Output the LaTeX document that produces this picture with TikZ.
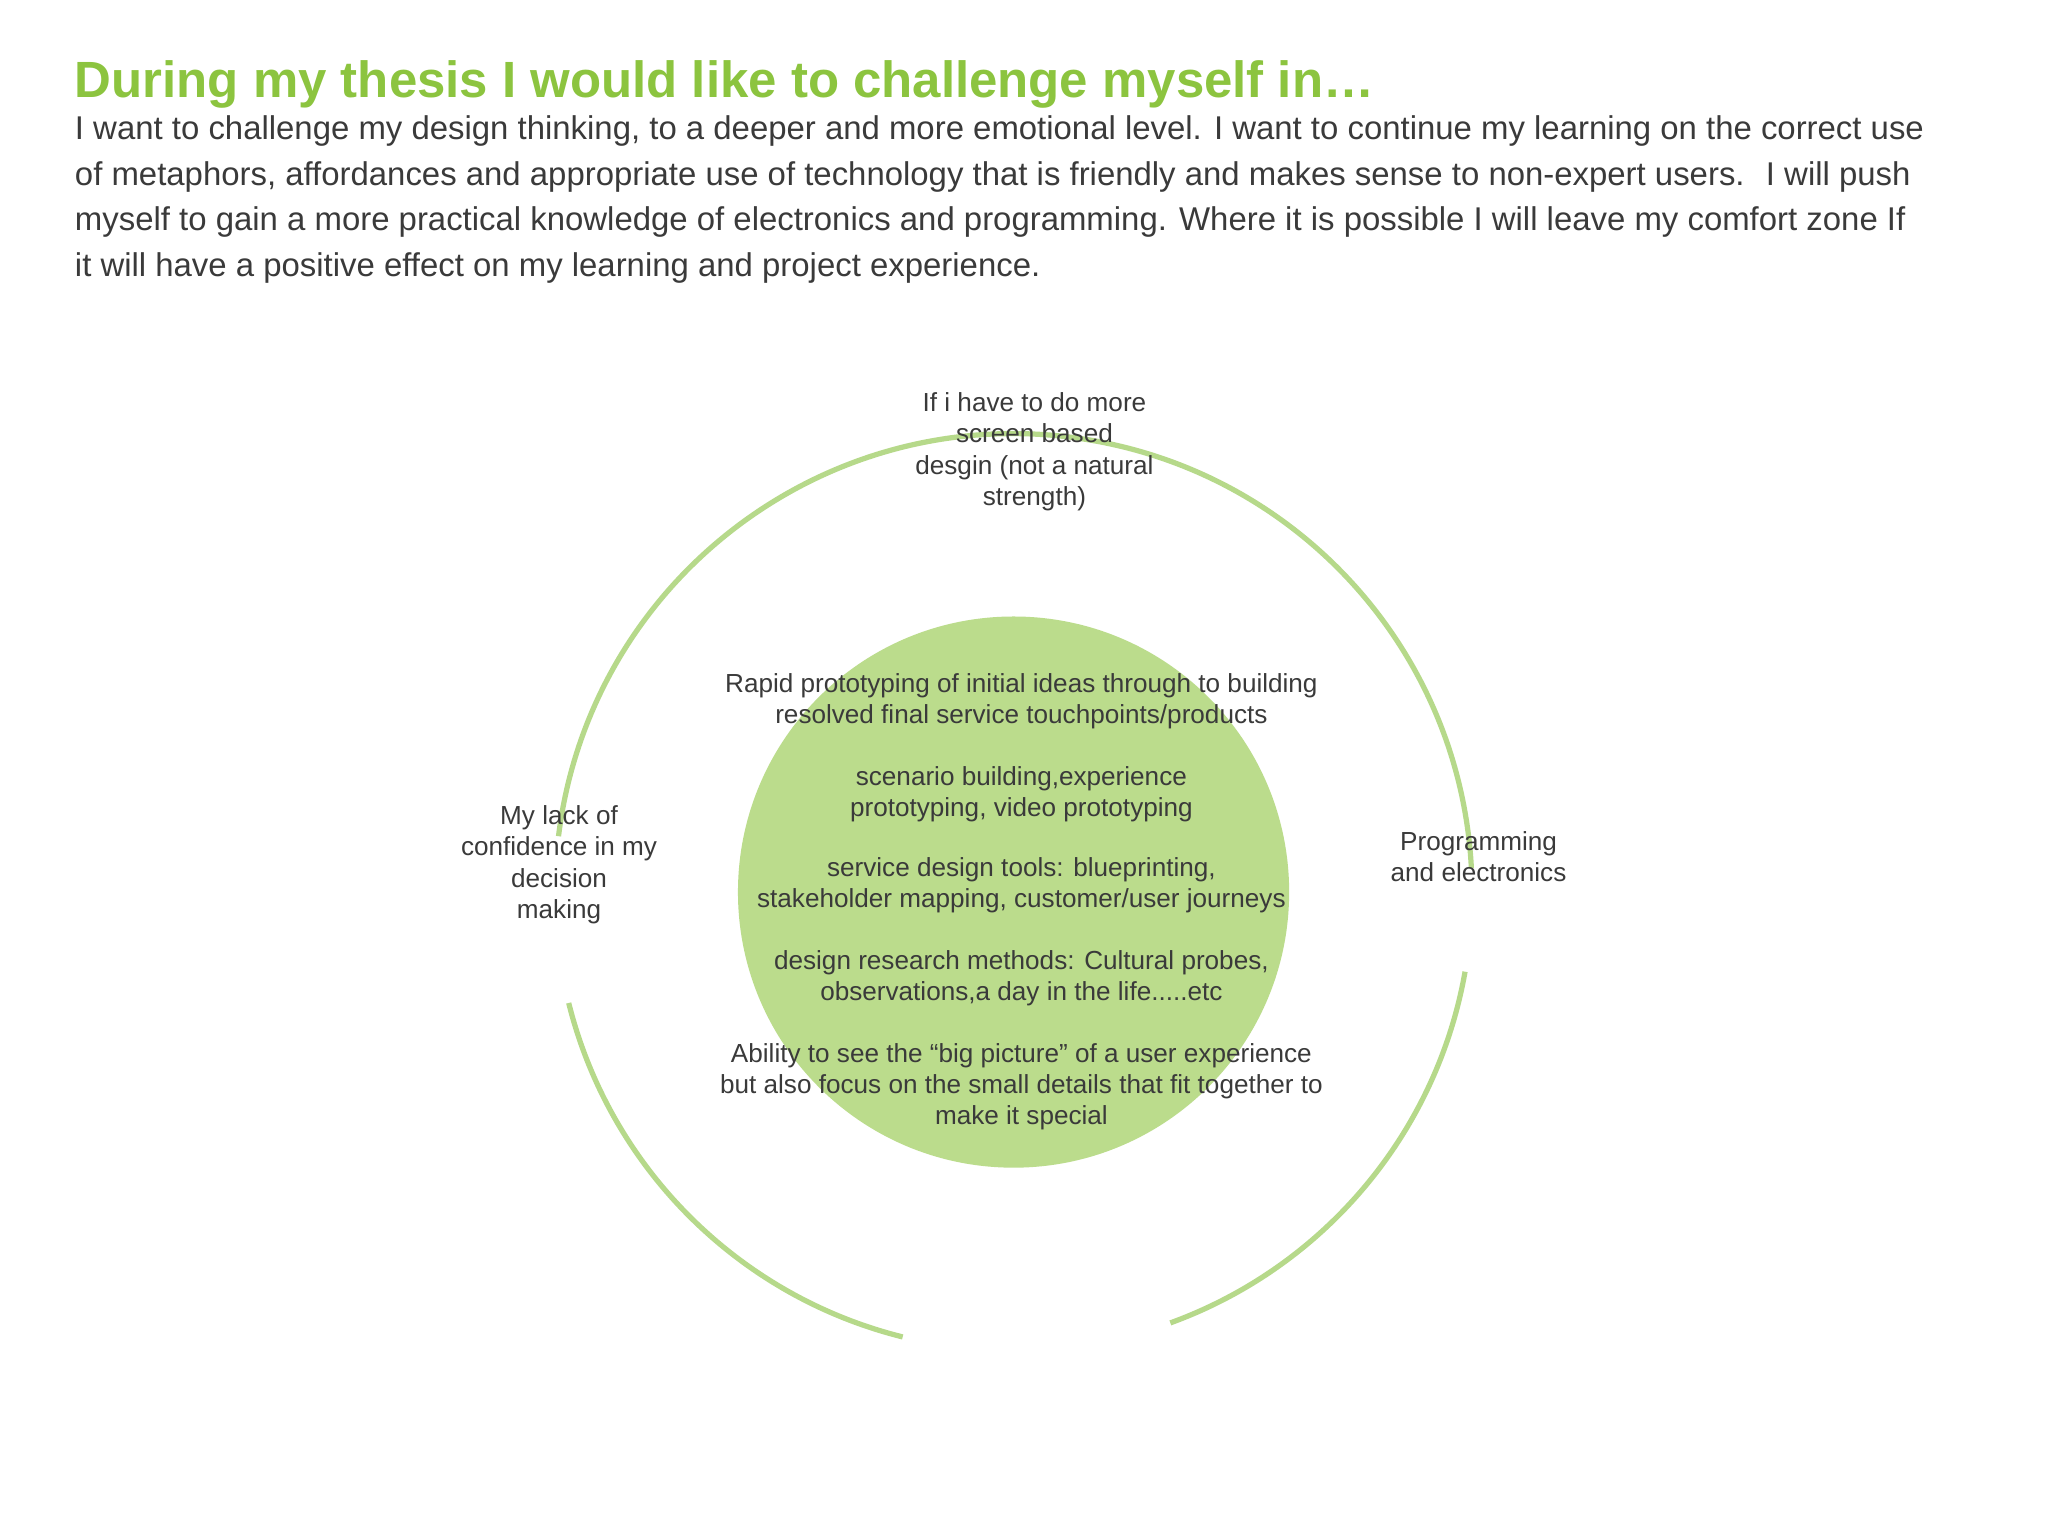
\documentclass[tikz,border=0pt]{standalone}
\usepackage{fontspec}
\setmainfont{Liberation Sans}
\definecolor{tgreen}{HTML}{8CC43F}
\definecolor{lgreen}{HTML}{B6D98A}
\definecolor{fgreen}{HTML}{BBDC8C}
\definecolor{tgray}{HTML}{3A3A3A}
\tikzset{
 lbl/.style={align=center,text=tgray,font=\fontsize{10pt}{12pt}\selectfont,inner sep=0pt},
 ring/.style={draw=lgreen,line width=2pt},
}
\begin{document}
\begin{tikzpicture}[x=0.5pt,y=-0.5pt]
\useasboundingbox[fill=white] (0,0) rectangle (1568,1176);
\node[anchor=base west,inner sep=0pt,text=tgreen,font=\fontsize{19.5pt}{22pt}\selectfont\bfseries] (title) at (57,75) {During my thesis I would like to challenge myself in…};
\node[anchor=north west,inner sep=0pt,text=tgray,align=left,font=\fontsize{12.6pt}{17.5pt}\selectfont] (body) at (57,88) {I want to challenge my design thinking, to a deeper and more emotional level. I want to continue my learning on the correct use\\of metaphors, affordances and appropriate use of technology that is friendly and makes sense to non-expert users.~ I will push\\myself to gain a more practical knowledge of electronics and programming. Where it is possible I will leave my comfort zone If\\it will have a positive effect on my learning and project experience.};
\coordinate (c) at (776,683);
\fill[fgreen] (c) circle[radius=211];
\draw[ring] (c) ++(10:351) arc[start angle=10,end angle=70,radius=351];
\draw[ring] (c) ++(104:351) arc[start angle=104,end angle=166,radius=351];
\draw[ring] (c) ++(187:351) arc[start angle=187,end angle=357,radius=351];
\node[lbl] (p1) at (782,537) {Rapid prototyping of initial ideas through to building\\resolved final service touchpoints/products};
\node[lbl] (p2) at (782,608) {scenario building,experience\\prototyping, video prototyping};
\node[lbl] (p3) at (782,678) {service design tools: blueprinting,\\stakeholder mapping, customer/user journeys};
\node[lbl] (p4) at (782,749) {design research methods: Cultural probes,\\observations,a day in the life.....etc};
\node[lbl] (p5) at (782,832) {Ability to see the “big picture” of a user experience\\but also focus on the small details that fit together to\\make it special};
\node[lbl] (top) at (792,346) {If i have to do more\\screen based\\desgin (not a natural\\strength)};
\node[lbl] (left) at (428,662) {My lack of\\confidence in my\\decision\\making};
\node[lbl] (right) at (1132,656) {Programming\\and electronics};
\end{tikzpicture}
\end{document}
